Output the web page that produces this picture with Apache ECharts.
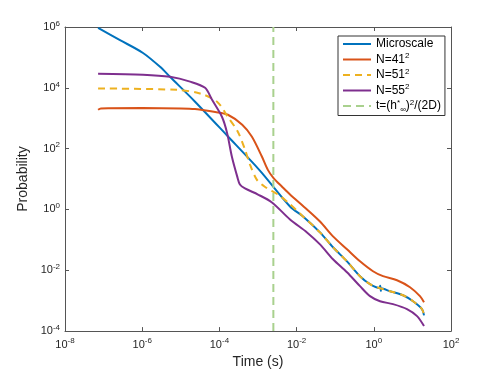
<!DOCTYPE html>
<html>
<head>
<meta charset="utf-8">
<script src="https://cdn.jsdelivr.net/npm/echarts@6/dist/echarts.min.js"></script>
<style>
  html, body { margin: 0; padding: 0; background: #fff; }
  #main { width: 498px; height: 374px; }
</style>
</head>
<body>
<div id="main"></div>
<script>
  // 读图得到的数据 (time in s, probability)
  let microT = [7.2e-8, 2.66e-7, 1.05e-6, 2.9e-6, 5.25e-6, 2.34e-5, 1.58e-4, 1.12e-3, 6.75e-3, 1.47e-2, 4.04e-2, 8.77e-2, 0.202, 0.439, 0.797, 1.4, 1.47, 1.52, 1.57, 2.63, 5.71, 10.4, 17.7, 20]
  let microP = [9.3e5, 3.7e5, 1.4e5, 4.9e4, 2.3e4, 3.5e3, 270, 19, 1.25, 0.59, 0.176, 0.057, 0.0197, 6.4e-3, 3.5e-3, 2.6e-3, 3.1e-3, 2.1e-3, 2.55e-3, 2.05e-3, 1.51e-3, 9.6e-4, 5.3e-4, 3.3e-4]

  let n41T = [7.2e-8, 8.5e-8, 1e-6, 1e-5, 2.34e-5, 7.8e-5, 1.66e-4, 3.9e-4, 6.9e-4, 1.26e-3, 1.8e-3, 2.5e-3, 4.2e-3, 6.75e-3, 1.86e-2, 4.04e-2, 8.77e-2, 0.202, 0.439, 0.953, 1.73, 3.99, 8.67, 15.7, 20]
  let n41P = [1.9e3, 2.1e3, 2.15e3, 2.1e3, 2.0e3, 1.6e3, 1.3e3, 610, 250, 55, 20, 11, 5.6, 3.1, 1.0, 0.40, 0.130, 0.049, 0.0197, 9.3e-3, 6.4e-3, 4.7e-3, 2.77e-3, 1.41e-3, 8.9e-4]

  let n51T = [7.2e-8, 7.9e-6, 3.16e-5, 8.7e-5, 1.66e-4, 3.0e-4, 4.6e-4, 6.2e-4, 9.3e-4, 1.5e-3, 3.3e-3, 6.0e-3, 1.47e-2, 4.04e-2, 8.77e-2, 0.202, 0.439, 0.797, 1.45, 2.63, 5.71, 10.4, 17.7, 20]
  let n51P = [9.5e3, 8.6e3, 6.5e3, 3.5e3, 1.1e3, 360, 93, 30, 9.6, 5.6, 3.1, 1.7, 0.59, 0.176, 0.057, 0.0197, 6.4e-3, 3.5e-3, 2.57e-3, 2.05e-3, 1.51e-3, 9.6e-4, 5.3e-4, 3.3e-4]

  let n55T = [7.2e-8, 1.05e-6, 5.25e-6, 1.74e-5, 4.26e-5, 6.4e-5, 1.17e-4, 1.58e-4, 2.1e-4, 2.9e-4, 3.4e-4, 4.6e-4, 1e-3, 2.3e-3, 6.75e-3, 1.86e-2, 4.04e-2, 8.77e-2, 0.202, 0.439, 0.797, 1.45, 3.14, 7.24, 13.2, 20]
  let n55P = [2.9e4, 2.7e4, 2.3e4, 1.6e4, 1e4, 4.1e3, 1.1e3, 330, 55, 12, 6.6, 4.9, 3.1, 1.7, 0.47, 0.176, 0.071, 0.023, 8.6e-3, 3.0e-3, 1.41e-3, 9.6e-4, 7.7e-4, 5.3e-4, 3.1e-4, 1.46e-4]

  let tDiff = 2.5e-3 // t=(h*)^2/(2D)
  let yRange = [1e-4, 1e6]

  let names = ['Microscale', 'N=41{sup|2}', 'N=51{sup|2}', 'N=55{sup|2}', 't=(h{sup|*}{sub|∞}){sup|2}/(2D)']
  let colors = ['#0072bd', '#d95319', '#edb120', '#7e2f8e', '#a9d18e']

  function pairs (t, p) {
    return t.map(function (v, i) { return [v, p[i]] })
  }

  let fontFamily = 'Liberation Sans, Arial, Helvetica, sans-serif'
  let axisColor = '#555'
  let textColor = '#262626'

  let expLabel = {
    color: textColor,
    fontFamily: fontFamily,
    fontSize: 11,
    formatter: function (v) {
      return '10{sup|' + Math.round(Math.log10(v)) + '}'
    },
    rich: {
      sup: { fontSize: 8, padding: [0, 0, 7, 0], fontFamily: fontFamily, color: textColor }
    }
  }

  let chart = echarts.init(document.getElementById('main'))

  function lineSeries (i, data, dashed) {
    return {
      name: names[i],
      type: 'line',
      data: data,
      symbol: 'none',
      smooth: 0.3,
      lineStyle: { color: colors[i], width: 2, type: dashed ? [7, 5] : 'solid' },
      itemStyle: { color: colors[i] }
    }
  }

  chart.setOption({
    animation: false,
    grid: { left: 65, right: 47, top: 27, bottom: 41 },
    legend: {
      left: 338,
      top: 36,
      orient: 'vertical',
      backgroundColor: '#fff',
      borderColor: '#333',
      borderWidth: 1,
      padding: [2, 4, 2, 4],
      itemGap: 2,
      itemWidth: 28,
      itemHeight: 12,
      itemStyle: { opacity: 0 },
      data: names,
      textStyle: {
        color: '#000',
        fontFamily: fontFamily,
        fontSize: 12,
        rich: {
          sup: { fontSize: 8, padding: [0, 0, 7, 0], fontFamily: fontFamily },
          sub: { fontSize: 8, padding: [7, 0, 0, 0], fontFamily: fontFamily }
        }
      }
    },
    xAxis: [
      {
        type: 'log',
        logBase: 10,
        min: 1e-8,
        max: 1e2,
        interval: 2,
        name: 'Time (s)',
        nameLocation: 'middle',
        nameGap: 22,
        nameTextStyle: { color: textColor, fontFamily: fontFamily, fontSize: 14 },
        axisLine: { lineStyle: { color: axisColor } },
        axisTick: { inside: true, length: 4, lineStyle: { color: axisColor } },
        axisLabel: Object.assign({ margin: 6 }, expLabel),
        splitLine: { show: false },
        minorTick: { show: false }
      },
      {
        type: 'log',
        position: 'top',
        min: 1e-8,
        max: 1e2,
        interval: 2,
        axisLine: { lineStyle: { color: axisColor } },
        axisTick: { inside: true, length: 4, lineStyle: { color: axisColor } },
        axisLabel: { show: false },
        splitLine: { show: false }
      }
    ],
    yAxis: [
      {
        type: 'log',
        logBase: 10,
        min: yRange[0],
        max: yRange[1],
        interval: 2,
        name: 'Probability',
        nameLocation: 'middle',
        nameGap: 28,
        nameTextStyle: { color: textColor, fontFamily: fontFamily, fontSize: 14 },
        axisLine: { show: true, lineStyle: { color: axisColor } },
        axisTick: { show: true, inside: true, length: 4, lineStyle: { color: axisColor } },
        axisLabel: Object.assign({ margin: 5 }, expLabel),
        splitLine: { show: false }
      },
      {
        type: 'log',
        position: 'right',
        min: yRange[0],
        max: yRange[1],
        interval: 2,
        axisLine: { show: true, lineStyle: { color: axisColor } },
        axisTick: { show: true, inside: true, length: 4, lineStyle: { color: axisColor } },
        axisLabel: { show: false },
        splitLine: { show: false }
      }
    ],
    series: [
      lineSeries(0, pairs(microT, microP), false),
      lineSeries(1, pairs(n41T, n41P), false),
      lineSeries(2, pairs(n51T, n51P), true),
      lineSeries(3, pairs(n55T, n55P), false),
      {
        name: names[4],
        type: 'line',
        data: [[tDiff, yRange[0]], [tDiff, yRange[1]]],
        symbol: 'none',
        lineStyle: { color: colors[4], width: 2, type: [8, 5] },
        itemStyle: { color: colors[4] }
      }
    ]
  })
</script>
</body>
</html>
